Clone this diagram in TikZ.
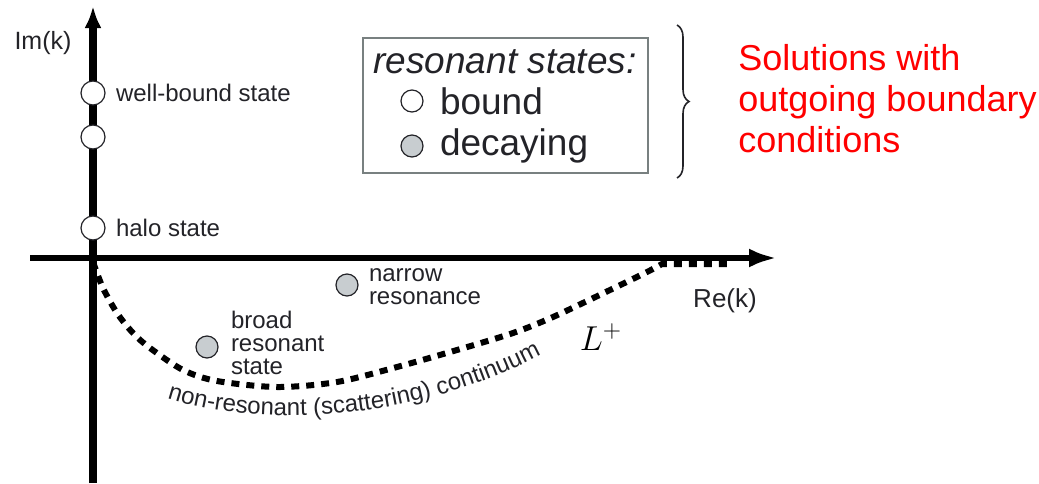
\documentclass[tikz,border=0pt]{standalone}
\usepackage{fontspec}
\setmainfont{Liberation Sans}
\usepackage{tikz}
\usetikzlibrary{arrows.meta,positioning,decorations.text,decorations.pathreplacing}
\definecolor{stategray}{RGB}{200,205,208}
\definecolor{boxgray}{RGB}{120,128,128}
\definecolor{inkgray}{RGB}{35,35,40}

\begin{document}
\begin{tikzpicture}[x=0.5pt, y=-0.5pt,
		axis/.style={draw=black},
		contin/.style={line width=3pt, dash pattern=on 4pt off 3.5pt},
		bndstate/.style={circle, draw=inkgray, line width=0.6pt, fill=white, minimum size=12pt, inner sep=0pt},
		decstate/.style={bndstate, fill=stategray, minimum size=11pt},
		lbl/.style={inner sep=0pt, align=left, text=inkgray, font=\fontsize{12}{11.5}\selectfont},
		leg/.style={inner sep=0pt, text=inkgray, font=\fontsize{18.5}{18.5}\selectfont}]
			%%%%% START %%%%%
			
			\useasboundingbox (0,0) rectangle (1039,483);
			
			\coordinate (orig) at (93,258);
			\coordinate (hstart) at (30,258);
			\coordinate (htip) at (777,258);
			\coordinate (vstart) at (93,483);
			\coordinate (vtip) at (93,6);
			
			% continuum contour
			\draw[contin] plot[smooth] coordinates {(93,262) (103,288) (117,313) (133,333) (150,348) (183,370) (217,381) (277,387) (337,382) (397,367) (457,350) (513,333) (553,317) (610,290) (647,272) (662,264)} -- (728,264);
			
			\path[decorate, decoration={text along path, text align=center,
				text={|\fontsize{12}{12}\selectfont\color{inkgray}|non-resonant (scattering) continuum}}]
				(160,396) .. controls (260,431) and (420,421) .. (548,351);
			
			% axes
			\draw[axis, line width=3pt, -{Latex[length=14pt, width=9.5pt]}] (hstart) -- (htip);
			\draw[axis, line width=4pt, -{Latex[length=11pt, width=8.5pt]}] (vstart) -- (vtip);
			
			\node[font=\fontsize{12.5}{12.5}\selectfont, text=inkgray] (imk) at (43,43) {Im(k)};
			\node[font=\fontsize{13}{13}\selectfont, text=inkgray] (rek) at (725,301) {Re(k)};
			
			% states on the imaginary axis
			\node[bndstate] (wb) at (93,93) {};
			\node[bndstate] (mid) at (93,137) {};
			\node[bndstate] (halo) at (93,228) {};
			\node[lbl, right=5pt of wb] (wbt) {well-bound state};
			\node[lbl, right=5pt of halo] (halot) {halo state};
			
			% resonances
			\node[decstate] (nr) at (347,285) {};
			\node[lbl, right=5pt of nr, yshift=-1pt] (nrt) {narrow\\resonance};
			\node[decstate] (br) at (207,347) {};
			\node[lbl, right=6pt of br, yshift=2pt] (brt) {broad\\resonant\\state};
			
			\node[font=\fontsize{18}{18}\selectfont] (lplus) at (601,337) {$L^+$};
			
			% legend
			\draw[draw=boxgray, line width=1pt] (363,38) rectangle (648,173);
			\node[leg, font=\fontsize{18.5}{18.5}\selectfont\itshape] (leghead) at (505,62) {resonant states:};
			\node[bndstate, minimum size=11pt] (legb) at (412,101) {};
			\node[leg, right=8pt of legb] (legbt) {bound};
			\node[decstate] (legd) at (412,146) {};
			\node[leg, right=8pt of legd] (legdt) {decaying};
			
			\coordinate (brtop) at (677,25);
			\coordinate (brbot) at (677,178);
			\draw[decorate, decoration={brace, amplitude=6pt}, line width=0.8pt, draw=inkgray] (brtop) -- (brbot);
			
			\node[anchor=west, align=left, text=red, inner sep=0pt, font=\fontsize{18}{20.5}\selectfont] (sol) at (738,99) {Solutions with\\outgoing boundary\\conditions};
			
			%%%%% END %%%%%
		\end{tikzpicture}
\end{document}
